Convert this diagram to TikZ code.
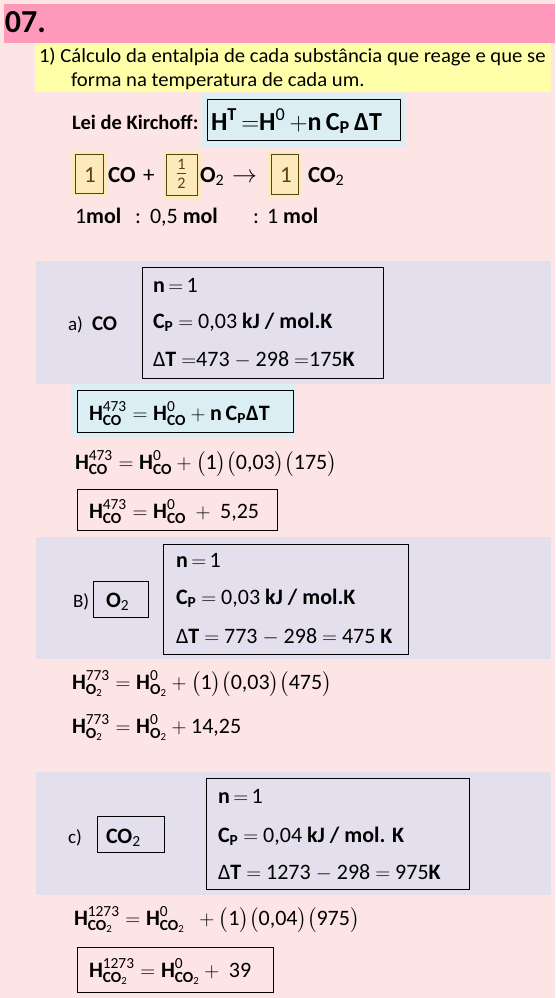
\documentclass[tikz,border=0pt]{standalone}
\usepackage{amsmath}
\usepackage{fontspec}
\setmainfont{Carlito}
\definecolor{bg}{RGB}{253,228,229}
\definecolor{titlebar}{RGB}{255,153,187}
\definecolor{hl}{RGB}{255,255,170}
\definecolor{bluef}{RGB}{218,238,243}
\definecolor{band}{RGB}{228,223,236}
\definecolor{orf}{RGB}{253,233,185}
\definecolor{olive}{RGB}{80,70,25}
\tikzset{
  txt/.style={anchor=base west, inner sep=0pt, outer sep=0pt},
  frame/.style={draw=black, line width=0.9pt},
  cofbox/.style={draw=olive, line width=0.9pt},
  fs/.style={font=\fontsize{#1}{#1}\selectfont},
  fsb/.style={font=\fontsize{#1}{#1}\selectfont\bfseries},
}
\newcommand{\HH}[2]{\text{\bfseries H}^{\text{\mdseries #1}}_{\text{\bfseries #2}}}
\newcommand{\Osub}{O\textsubscript{\mdseries 2}}
\newcommand{\COsub}{CO\textsubscript{\mdseries 2}}
\begin{document}
\begin{tikzpicture}[x=1pt,y=-1pt]
\useasboundingbox (0,0) rectangle (555,998);
\fill[bg] (0,0) rectangle (555,998);
% title
\fill[titlebar] (4,4) rectangle (555,43);
\node[txt, fsb=32] (title) at (5,33) {07.};
% statement
\fill[hl] (35,43) rectangle (551,92);
\node[txt, fs=20] (l1) at (39,63) {\scalebox{1.035}[1]{1) Cálculo da entalpia de cada substância que reage e que se}};
\node[txt, fs=20] (l2) at (71,86) {\scalebox{1.035}[1]{forma na temperatura de cada um.}};
% Kirchoff
\node[txt, fsb=20.5] (lei) at (72,129) {Lei de Kirchoff:};
\fill[bluef] (202,93) rectangle (405,147);
\draw[frame] (207,99) rectangle (400,140);
\node[txt, fsb=26] (kirch) at (211,130) {H$^{\text{T}}$\,$=$H$^{\text{\mdseries 0}}$\,$+$n\,C$_{\text{P}}$\,ΔT};
% reaction
\fill[orf] (72,152) rectangle (107,196);
\draw[cofbox] (75,154) rectangle (103,193);
\fill[orf] (163,152) rectangle (201,200);
\draw[cofbox] (166,154) rectangle (197,195);
\fill[orf] (268,152) rectangle (302,197);
\draw[cofbox] (271,154) rectangle (298,194);
\node[txt, fs=23, text=olive] (c1) at (84,182) {1};
\node[txt, fsb=23] (co) at (108,182) {CO};
\node[txt, fs=23] (plus) at (143,182) {+};
\node[fs=23, text=olive, inner sep=0pt] (half) at (181.5,174) {$\frac{\text{1}}{\text{2}}$};
\node[txt, fsb=23] (o2) at (200,182) {\Osub};
\node[txt, fs=23] (arr) at (232,182) {$\rightarrow$};
\node[txt, fs=23, text=olive] (c3) at (280,182) {1};
\node[txt, fsb=23] (co2) at (308,182) {\COsub};
% mol ratio
\node[txt, fs=22] (m1) at (75,223) {1\textbf{mol}};
\node[txt, fs=22] (s1) at (135,223) {:};
\node[txt, fs=22] (m2) at (150,223) {0,5 \textbf{mol}};
\node[txt, fs=22] (s2) at (253,223) {:};
\node[txt, fs=22] (m3) at (267,223) {1 \textbf{mol}};
% ---------- a) CO
\fill[band] (36,261) rectangle (551,384);
\draw[frame] (142,267) rectangle (383,378);
\node[txt, fs=19] (al) at (68,330) {a)};
\node[txt, fsb=21] (aco) at (92,330) {CO};
\node[txt, fs=22] (an) at (153,292) {\textbf{n}$\,=\,$1};
\node[txt, fs=22] (acp) at (153,328) {\textbf{C}$_{\text{\bfseries P}}$ $=$ 0,03 \textbf{kJ / mol.K}};
\node[txt, fs=22] (adt) at (153,366) {Δ\textbf{T} $=$473 $-$ 298 $=$175\textbf{K}};
\fill[bluef] (71,384) rectangle (296,437);
\draw[frame] (77,390) rectangle (293,432);
\node[txt, fs=22] (af1) at (89,420) {$\HH{473}{CO} =\HH{0}{CO} +\text{\bfseries n\,C}_{\text{\bfseries P}}\text{\bfseries ΔT}$};
\node[txt, fs=22] (af2) at (75,469) {$\HH{473}{CO} =\HH{0}{CO} +\bigl(\text{1}\bigr)\bigl(\text{0,03}\bigr)\bigl(\text{175}\bigr)$};
\draw[frame] (77,489) rectangle (277,530);
\node[txt, fs=22] (af3) at (89,518) {$\HH{473}{CO} =\HH{0}{CO}\ +\text{ 5,25}$};
% ---------- B) O2
\fill[band] (36,537) rectangle (551,659);
\draw[frame] (163,544) rectangle (408,654);
\node[txt, fs=19] (bl) at (73,607) {B)};
\draw[frame] (93,581) rectangle (148,617);
\node[txt, fsb=22] (bo2) at (106,607) {\Osub};
\node[txt, fs=22] (bn) at (176,567) {\textbf{n}$\,=\,$1};
\node[txt, fs=22] (bcp) at (176,604) {\textbf{C}$_{\text{\bfseries P}}$ $=$ 0,03 \textbf{kJ / mol.K}};
\node[txt, fs=22] (bdt) at (176,643) {Δ\textbf{T} $=$ 773 $-$ 298 $=$ 475 \textbf{K}};
\node[txt, fs=22] (bf1) at (72,689) {$\HH{773}{\Osub} =\HH{0}{\Osub} +\bigl(\text{1}\bigr)\bigl(\text{0,03}\bigr)\bigl(\text{475}\bigr)$};
\node[txt, fs=22] (bf2) at (72,733) {$\HH{773}{\Osub} =\HH{0}{\Osub} +\text{14,25}$};
% ---------- c) CO2
\fill[band] (36,772) rectangle (551,895);
\draw[frame] (206,778) rectangle (469,889);
\node[txt, fs=19] (cl) at (68,843) {c)};
\draw[frame] (97,816) rectangle (164,852);
\node[txt, fsb=22] (cco2) at (106,843) {\COsub};
\node[txt, fs=22] (cn) at (218,803) {\textbf{n}$\,=\,$1};
\node[txt, fs=22] (ccp) at (218,842) {\textbf{C}$_{\text{\bfseries P}}$ $=$ 0,04 \textbf{kJ / mol. K}};
\node[txt, fs=22] (cdt) at (218,879) {Δ\textbf{T} $=$ 1273 $-$ 298 $=$ 975\textbf{K}};
\node[txt, fs=22] (cf1) at (74,925) {$\HH{1273}{\COsub} =\HH{0}{\COsub}\ \ +\bigl(\text{1}\bigr)\bigl(\text{0,04}\bigr)\bigl(\text{975}\bigr)$};
\draw[frame] (77,947) rectangle (273,992);
\node[txt, fs=22] (cf2) at (89,977) {$\HH{1273}{\COsub} =\HH{0}{\COsub} +\text{ 39}$};
\end{tikzpicture}
\end{document}
